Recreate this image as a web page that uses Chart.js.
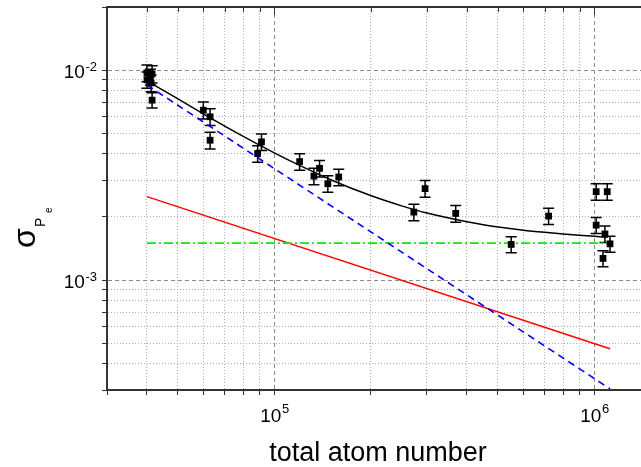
<!DOCTYPE html>
<html>
<head>
<meta charset="utf-8">
<script src="https://cdn.jsdelivr.net/npm/chart.js@4.4.0/dist/chart.umd.min.js"></script>
<style>
  html, body { margin: 0; padding: 0; background: #fff; }
  canvas { display: block; }
</style>
</head>
<body>
<canvas id="myChart" width="641" height="467"></canvas>
<script>
var atomNumbers = [40000, 41500, 41000, 40000, 41200, 41500, 60000, 63000, 63000, 88700, 91200,
    120000, 133000, 138500, 147000, 159000, 273000, 296000, 369000, 550000, 720000,
    1014000, 1098000, 1014000, 1080000, 1120000, 1065000];
var sigmaValues = [0.0097, 0.0096, 0.0093, 0.0090, 0.0087, 0.0072, 0.00645, 0.0060, 0.00464, 0.00401, 0.00456,
    0.00367, 0.00313, 0.00341, 0.00288, 0.0031, 0.00211, 0.00273, 0.00208, 0.00148, 0.00202,
    0.00264, 0.00264, 0.00183, 0.00166, 0.00149, 0.00127];
var sigmaErrors = [0.0009, 0.0009, 0.0008, 0.0008, 0.0008, 0.0006, 0.0006, 0.00055, 0.00042, 0.00036, 0.00041,
    0.00033, 0.00028, 0.00031, 0.00026, 0.00028, 0.00019, 0.00025, 0.00019, 0.00013, 0.00018,
    0.00024, 0.00024, 0.00016, 0.00015, 0.00013, 0.00011];

// total fit curve (black)
var fitX = [40000, 50000, 60000, 70000, 80000, 100000, 120000, 150000, 200000, 250000,
    300000, 400000, 500000, 600000, 700000, 800000, 1000000, 1100000];
var fitY = [0.0089, 0.0073, 0.0062, 0.00542, 0.00484, 0.00404, 0.00352, 0.00301, 0.00253, 0.00226,
    0.00209, 0.0019, 0.00179, 0.00173, 0.00169, 0.00166, 0.00162, 0.0016];

// straight components
var compX = [40000, 1120000];
var blueY = [0.0085, 0.000304];
var redY = [0.0025, 0.000472];
var greenY = [0.0015, 0.0015];

// axis labels
var xTickValues = [1e5, 1e6];
var xTickExps = ["5", "6"];
var yTickValues = [1e-2, 1e-3];
var yTickExps = ["-2", "-3"];
var xTitle = "total atom number";

var FONT = '"Liberation Sans", Arial, sans-serif';

function toXY(xs, ys) {
    var out = [];
    for (var i = 0; i < xs.length; i++) {
        out.push({x: xs[i], y: ys[i]});
    }
    return out;
}

function niceMultiple(v) {
    var e = Math.floor(Math.log10(v) + 1e-9);
    var m = v / Math.pow(10, e);
    return Math.abs(m - Math.round(m)) < 1e-6;
}
function isDecade(v) {
    var l = Math.log10(v);
    return Math.abs(l - Math.round(l)) < 1e-6;
}
function gridColor(c) {
    if (!c.tick || !niceMultiple(c.tick.value)) return "rgba(0,0,0,0)";
    return isDecade(c.tick.value) ? "#8a8a8a" : "#b0b0b0";
}
function gridDash(c) {
    if (!c.tick) return [];
    return isDecade(c.tick.value) ? [4, 3] : [1, 2];
}
function tickColor(c) {
    if (!c.tick || !niceMultiple(c.tick.value)) return "rgba(0,0,0,0)";
    return "#333";
}

var decor = {
    id: "decor",
    beforeDatasetsDraw: function (chart) {
        var ctx = chart.ctx, xs = chart.scales.x, ys = chart.scales.y, a = chart.chartArea;
        ctx.save();
        ctx.beginPath();
        ctx.rect(a.left, a.top, a.right - a.left, a.bottom - a.top);
        ctx.clip();
        ctx.strokeStyle = "#000";
        ctx.lineWidth = 1.5;
        for (var i = 0; i < atomNumbers.length; i++) {
            var px = xs.getPixelForValue(atomNumbers[i]);
            var top = ys.getPixelForValue(sigmaValues[i] + sigmaErrors[i]);
            var bot = ys.getPixelForValue(sigmaValues[i] - sigmaErrors[i]);
            ctx.beginPath();
            ctx.moveTo(px, top); ctx.lineTo(px, bot);
            ctx.moveTo(px - 5.5, top); ctx.lineTo(px + 5.5, top);
            ctx.moveTo(px - 5.5, bot); ctx.lineTo(px + 5.5, bot);
            ctx.stroke();
        }
        ctx.restore();
    },
    afterDraw: function (chart) {
        var ctx = chart.ctx, xs = chart.scales.x, ys = chart.scales.y, a = chart.chartArea;
        ctx.save();
        // top frame with inward ticks
        ctx.strokeStyle = "#333";
        ctx.lineWidth = 2;
        ctx.beginPath();
        ctx.moveTo(a.left - 1, a.top);
        ctx.lineTo(a.right, a.top);
        ctx.stroke();
        ctx.lineWidth = 1;
        xs.ticks.forEach(function (t) {
            if (!niceMultiple(t.value)) return;
            var px = Math.round(xs.getPixelForValue(t.value)) + 0.5;
            ctx.beginPath();
            ctx.moveTo(px, a.top);
            ctx.lineTo(px, a.top + (isDecade(t.value) ? 8 : 5));
            ctx.stroke();
        });

        ctx.fillStyle = "#000";
        ctx.textAlign = "left";
        ctx.textBaseline = "alphabetic";
        // x tick labels
        xTickValues.forEach(function (v, i) {
            var px = xs.getPixelForValue(v);
            var left = px - 14;
            ctx.font = "19px " + FONT;
            ctx.fillText("10", left, a.bottom + 32);
            var w = ctx.measureText("10").width;
            ctx.font = "13px " + FONT;
            ctx.fillText(xTickExps[i], left + w + 0.5, a.bottom + 23);
        });
        // y tick labels
        yTickValues.forEach(function (v, i) {
            var py = ys.getPixelForValue(v);
            ctx.font = "19px " + FONT;
            var w10 = ctx.measureText("10").width;
            ctx.font = "13px " + FONT;
            var ws = ctx.measureText(yTickExps[i]).width;
            var left = a.left - 10 - ws - w10 - 0.5;
            ctx.font = "19px " + FONT;
            ctx.fillText("10", left, py + 7.5);
            ctx.font = "13px " + FONT;
            ctx.fillText(yTickExps[i], left + w10 + 0.5, py + 1);
        });
        // x title
        ctx.font = "27px " + FONT;
        ctx.textAlign = "center";
        ctx.fillText(xTitle, 378, 461);
        // y title: sigma with nested subscripts
        ctx.translate(35, 248);
        ctx.rotate(-Math.PI / 2);
        ctx.textAlign = "left";
        ctx.font = "32px " + FONT;
        ctx.fillText("\u03c3", 0, 0);
        ctx.font = "14px " + FONT;
        ctx.fillText("P", 21, 10);
        ctx.font = "10px " + FONT;
        ctx.fillText("e", 35, 17);
        ctx.restore();
    }
};

new Chart("myChart", {
    type: "scatter",
    data: {
        datasets: [{
                data: toXY(atomNumbers, sigmaValues),
                pointStyle: "rect",
                pointRadius: 4.8,
                backgroundColor: "#000",
                borderColor: "#000",
                borderWidth: 0,
                showLine: false
            }, {
                data: toXY(fitX, fitY),
                showLine: true,
                pointRadius: 0,
                borderColor: "#000",
                borderWidth: 1.5,
                cubicInterpolationMode: "monotone"
            }, {
                data: toXY(compX, blueY),
                showLine: true,
                pointRadius: 0,
                borderColor: "#0000ff",
                borderWidth: 1.6,
                borderDash: [7, 5]
            }, {
                data: toXY(compX, greenY),
                showLine: true,
                pointRadius: 0,
                borderColor: "#00f000",
                borderWidth: 1.8,
                borderDash: [9, 3, 2, 3]
            }, {
                data: toXY(compX, redY),
                showLine: true,
                pointRadius: 0,
                borderColor: "#ff0000",
                borderWidth: 1.5
            }]
    },
    options: {
        responsive: false,
        animation: false,
        layout: {autoPadding: false, padding: {top: 7, left: 0, right: 0, bottom: 0}},
        plugins: {legend: {display: false}, tooltip: {enabled: false}},
        scales: {
            x: {
                type: "logarithmic",
                min: 30000,
                max: 1400000,
                ticks: {display: false},
                grid: {color: gridColor, lineWidth: 1, tickLength: 5, tickColor: tickColor},
                border: {display: true, color: "#333", width: 2, dash: gridDash},
                afterFit: function (s) { s.height = 77; }
            },
            y: {
                type: "logarithmic",
                min: 0.0003,
                max: 0.02,
                ticks: {display: false},
                grid: {color: gridColor, lineWidth: 1, tickLength: 5, tickColor: tickColor},
                border: {display: true, color: "#333", width: 2, dash: gridDash},
                afterFit: function (s) { s.width = 107; }
            }
        }
    },
    plugins: [decor]
});
</script>
</body>
</html>
